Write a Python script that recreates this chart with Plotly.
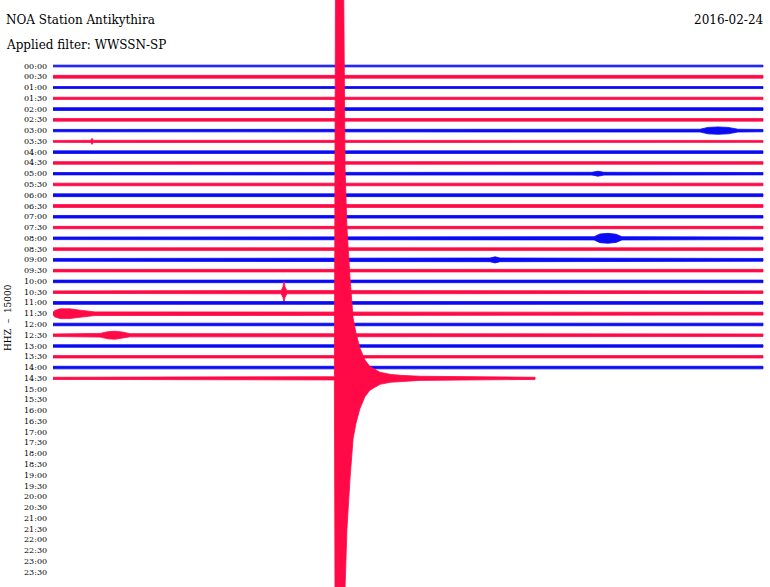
import plotly.graph_objects as go

# ---------------- data ----------------
ROW_LABELS = [f"{h:02d}:{m:02d}" for h in range(24) for m in (0, 30)]
TITLE = "NOA Station Antikythira"
SUBTITLE = "Applied filter: WWSSN-SP"
DATE_LABEL = "2016-02-24"
CHANNEL_LABEL = "HHZ  \u2013  15000"

# minutes of data recorded in each 30-minute line (00:00 ... 14:30)
TRACE_END_MIN = [30.0] * 29 + [20.37]

# background noise half-amplitude of each line (in line-spacing units)
NOISE_AMP = [0.08, 0.13, 0.09, 0.10, 0.13, 0.12, 0.11, 0.09, 0.12, 0.12,
             0.11, 0.12, 0.13, 0.13, 0.12, 0.11, 0.12, 0.12, 0.13, 0.12,
             0.12, 0.12, 0.13, 0.13, 0.12, 0.12, 0.12, 0.11, 0.12, 0.10]

# envelope knots of visible events: line label -> (minutes, half-amplitude)
EVENT_LINE = ["03:00", "03:30", "05:00", "08:00", "09:00", "10:30", "11:30", "12:30", "14:30"]
EVENT_MIN = [
    [27.34, 27.68, 28.10, 28.52, 28.94],
    [1.60, 1.65, 1.70],
    [22.77, 23.03, 23.28],
    [22.86, 23.11, 23.45, 23.79, 24.04],
    [18.46, 18.68, 18.89],
    [9.64, 9.72, 9.76, 9.80, 9.88],
    [0.08, 0.30, 0.72, 1.06, 1.35, 1.77],
    [1.99, 2.32, 2.62, 2.92, 3.25],
    [11.89, 11.94, 12.27, 12.34, 12.42, 12.55, 12.68, 12.80, 12.97, 13.18,
     13.39, 13.82, 14.24, 14.66, 15.51],
]
EVENT_AMP = [
    [0.13, 0.30, 0.34, 0.30, 0.13],
    [0.10, 0.28, 0.10],
    [0.13, 0.23, 0.13],
    [0.15, 0.40, 0.46, 0.38, 0.15],
    [0.17, 0.28, 0.17],
    [0.15, 0.50, 1.00, 0.50, 0.15],
    [0.30, 0.45, 0.45, 0.35, 0.25, 0.17],
    [0.17, 0.33, 0.37, 0.30, 0.15],
    [0.15, 40.0, 40.0, 19.5, 14.0, 9.3, 5.6, 4.2, 2.8, 1.7,
     1.1, 0.56, 0.37, 0.28, 0.19],
]

COLORS = ["#0a0af5", "#ff0a46"]

# ---------------- figure ----------------
W, H = 770, 587
X0_PX, X1_PX = 53, 763
Y0_PX, DY_PX = 66, 10.77
min_per_px = 30.0 / (X1_PX - X0_PX)
x_range = [-X0_PX * min_per_px, (W - X0_PX) * min_per_px]
y_range = [(H - Y0_PX) / DY_PX, -Y0_PX / DY_PX]

fig = go.Figure()

events = {lab: (t, a) for lab, t, a in zip(EVENT_LINE, EVENT_MIN, EVENT_AMP)}

for r, (end, noise) in enumerate(zip(TRACE_END_MIN, NOISE_AMP)):
    lab = ROW_LABELS[r]
    ts = [0.0]
    amps = [noise]
    if lab in events:
        et, ea = events[lab]
        ts += list(et)
        amps += list(ea)
    ts.append(end)
    amps.append(noise)
    xs = ts + ts[::-1]
    ys = [r - a for a in amps] + [r + a for a in amps[::-1]]
    col = COLORS[r % 2]
    fig.add_trace(go.Scatter(
        x=xs, y=ys, mode="lines", fill="toself", fillcolor=col,
        line=dict(color=col, width=0.8), hoverinfo="skip", showlegend=False))

annotations = []
for r, lab in enumerate(ROW_LABELS):
    annotations.append(dict(
        x=49 / W, xref="paper", y=r, yref="y", text=lab, showarrow=False,
        xanchor="right", yanchor="middle",
        font=dict(family="DejaVu Serif", size=8, color="#000")))

annotations += [
    dict(x=4 / W, y=1 - 20 / H, xref="paper", yref="paper", text=TITLE,
         showarrow=False, xanchor="left", yanchor="middle",
         font=dict(family="DejaVu Serif", size=12, color="#000")),
    dict(x=4 / W, y=1 - 45 / H, xref="paper", yref="paper", text=SUBTITLE,
         showarrow=False, xanchor="left", yanchor="middle",
         font=dict(family="DejaVu Serif", size=12, color="#000")),
    dict(x=766 / W, y=1 - 20 / H, xref="paper", yref="paper", text=DATE_LABEL,
         showarrow=False, xanchor="right", yanchor="middle",
         font=dict(family="DejaVu Serif", size=12, color="#000")),
    dict(x=8 / W, y=1 - 318 / H, xref="paper", yref="paper", text=CHANNEL_LABEL,
         showarrow=False, xanchor="center", yanchor="middle", textangle=-90,
         font=dict(family="DejaVu Serif", size=9, color="#000")),
]

fig.update_layout(
    width=W, height=H, margin=dict(l=0, r=0, t=0, b=0),
    paper_bgcolor="white", plot_bgcolor="white",
    xaxis=dict(range=x_range, visible=False, fixedrange=True),
    yaxis=dict(range=y_range, visible=False, fixedrange=True),
    annotations=annotations,
)

fig.write_html("out.html", config={"displayModeBar": False},
               post_script="document.body.style.margin='0px';")
